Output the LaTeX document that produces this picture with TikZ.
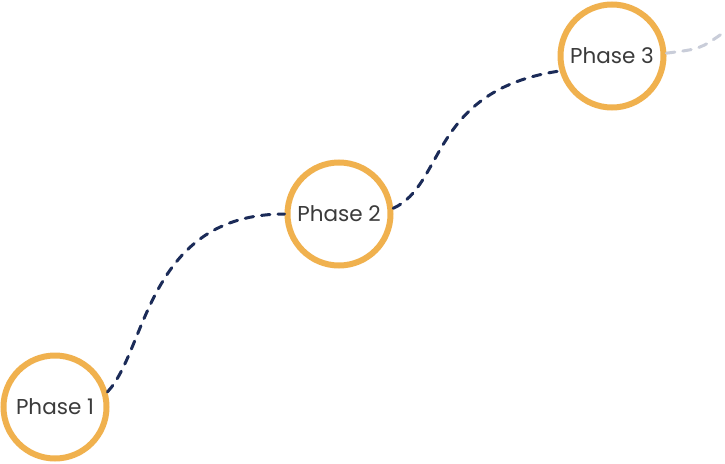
\documentclass[tikz,border=0pt]{standalone}
\usepackage{fontspec}
\setmainfont{Poppins}
\definecolor{ring}{HTML}{F0B14E}
\definecolor{navy}{HTML}{1B2B58}
\definecolor{lightgray}{HTML}{C9CDD9}
\definecolor{txt}{HTML}{3B3B3B}
\begin{document}
\begin{tikzpicture}[x=1pt,y=-1pt,
  phase/.style={circle,draw=ring,line width=6pt,fill=white,minimum size=103pt,inner sep=0pt,
    text=txt,font=\fontsize{21.5}{25}\selectfont},
  link/.style={draw=navy,line width=3pt,line cap=round,dash pattern=on 8.5pt off 8pt},
  fade/.style={draw=lightgray,line width=3pt,line cap=round,dash pattern=on 8.5pt off 8pt}]
\useasboundingbox (0,0) rectangle (725,463);
\node[phase] (p1) at (55,407) {Phase 1};
\node[phase] (p2) at (339,214) {Phase 2};
\node[phase] (p3) at (612,56) {Phase 3};
\coordinate (tail) at (723,33);
\draw[link] (p1.16) .. controls (147,350) and (147,214) .. (p2.180);
\draw[link] (p2.6) .. controls (445,185) and (430,90) .. (p3.196);
\draw[fade] (p3.3) .. controls (700,49) .. (tail);
\end{tikzpicture}
\end{document}
